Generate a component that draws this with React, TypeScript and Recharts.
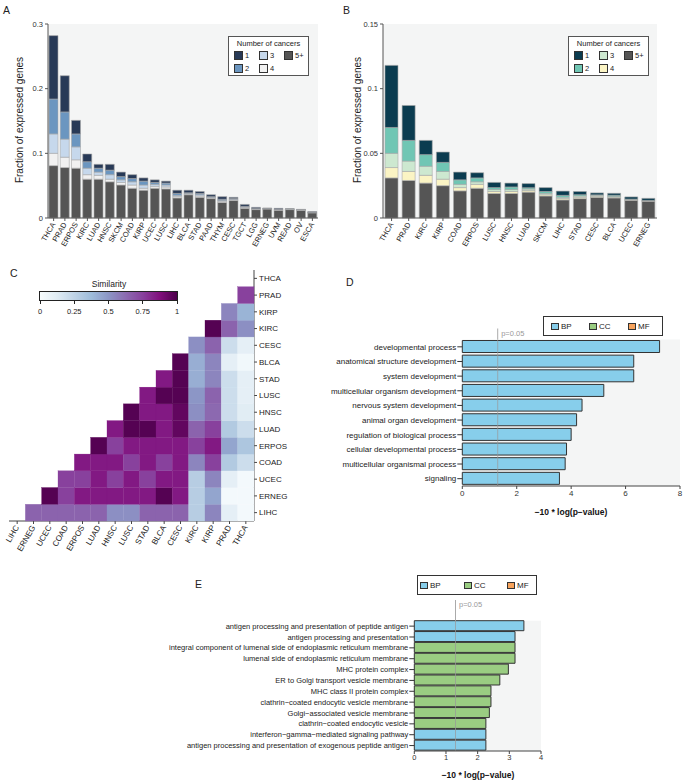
import React from "react"
import {
  BarChart, Bar, XAxis, YAxis, CartesianGrid, Cell,
  ScatterChart, Scatter, ReferenceLine,
} from "recharts"

const FONT = "'Liberation Sans', Arial, Helvetica, sans-serif"

// ---- panel A: fraction of expressed genes, all cancers
const aCat = ["THCA", "PRAD", "ERPOS", "KIRC", "LUAD", "HNSC", "SKCM", "COAD", "KIRP", "UCEC", "LUSC", "LIHC", "BLCA", "STAD", "PAAD", "THYM", "CESC", "TGCT", "LGG", "ERNEG", "UVM", "READ", "OV", "ESCA"]
const aN5 = [0.081, 0.078, 0.077, 0.060, 0.060, 0.056, 0.051, 0.046, 0.043, 0.046, 0.045, 0.031, 0.036, 0.032, 0.030, 0.024, 0.027, 0.015, 0.013, 0.014, 0.012, 0.013, 0.012, 0.008]
const aN4 = [0.019, 0.016, 0.013, 0.007, 0.006, 0.004, 0.004, 0.005, 0.003, 0.003, 0.003, 0.002, 0.001, 0.002, 0.001, 0.002, 0.001, 0.001, 0.0005, 0.0003, 0.0005, 0.0003, 0.0003, 0.0003]
const aN3 = [0.030, 0.028, 0.020, 0.010, 0.005, 0.007, 0.004, 0.005, 0.005, 0.003, 0.003, 0.002, 0.001, 0.002, 0.001, 0.001, 0.001, 0.001, 0.0005, 0.0003, 0.0005, 0.0003, 0.0003, 0.0003]
const aN2 = [0.054, 0.042, 0.020, 0.010, 0.006, 0.007, 0.005, 0.005, 0.006, 0.003, 0.003, 0.003, 0.001, 0.002, 0.001, 0.002, 0.001, 0.001, 0.0005, 0.0003, 0.0005, 0.0003, 0.0003, 0.0003]
const aN1 = [0.098, 0.056, 0.021, 0.012, 0.006, 0.009, 0.007, 0.006, 0.005, 0.004, 0.003, 0.005, 0.004, 0.003, 0.003, 0.004, 0.002, 0.003, 0.002, 0.0005, 0.0015, 0.0005, 0.0005, 0.001]
const aTicks = [0, 0.1, 0.2, 0.3]

// ---- panel B
const bCat = ["THCA", "PRAD", "KIRC", "KIRP", "COAD", "ERPOS", "LUSC", "HNSC", "LUAD", "SKCM", "LIHC", "STAD", "CESC", "BLCA", "UCEC", "ERNEG"]
const bN5 = [0.031, 0.029, 0.027, 0.025, 0.021, 0.023, 0.019, 0.019, 0.020, 0.017, 0.014, 0.015, 0.016, 0.0155, 0.0137, 0.013]
const bN4 = [0.008, 0.007, 0.006, 0.005, 0.0025, 0.003, 0.0015, 0.0015, 0.0012, 0.001, 0.001, 0.001, 0.0008, 0.0006, 0.0003, 0.0002]
const bN3 = [0.011, 0.008, 0.007, 0.006, 0.0025, 0.002, 0.0015, 0.0015, 0.0012, 0.001, 0.001, 0.001, 0.0008, 0.0005, 0.0003, 0.0002]
const bN2 = [0.020, 0.016, 0.009, 0.007, 0.0035, 0.003, 0.0015, 0.002, 0.001, 0.0015, 0.0015, 0.001, 0.0003, 0.001, 0.0003, 0.0002]
const bN1 = [0.048, 0.027, 0.011, 0.008, 0.006, 0.004, 0.004, 0.003, 0.0032, 0.003, 0.0033, 0.0025, 0.0015, 0.0015, 0.0017, 0.0016]
const bTicks = [0, 0.05, 0.1, 0.15]

// ---- panel C: similarity, row r holds columns r+1..14
const cNames = ["LIHC", "ERNEG", "UCEC", "COAD", "ERPOS", "LUAD", "HNSC", "LUSC", "STAD", "BLCA", "CESC", "KIRC", "KIRP", "PRAD", "THCA"]
const cRows = [
  [0.65, 0.65, 0.65, 0.65, 0.65, 0.52, 0.52, 0.65, 0.65, 0.65, 0.28, 0.55, 0.1, 0.02],
  [0.98, 0.75, 0.85, 0.85, 0.85, 0.85, 0.85, 0.98, 0.85, 0.28, 0.45, 0.02, 0.02],
  [0.75, 0.75, 0.85, 0.75, 0.85, 0.75, 0.85, 0.85, 0.28, 0.55, 0.1, 0.02],
  [0.85, 0.85, 0.85, 0.75, 0.85, 0.75, 0.85, 0.55, 0.75, 0.3, 0.2],
  [0.98, 0.75, 0.85, 0.85, 0.85, 0.85, 0.75, 0.85, 0.45, 0.32],
  [0.85, 0.98, 0.98, 0.85, 0.95, 0.65, 0.75, 0.3, 0.2],
  [0.98, 0.85, 0.85, 0.95, 0.52, 0.63, 0.2, 0.12],
  [0.85, 0.98, 0.98, 0.5, 0.65, 0.2, 0.1],
  [0.85, 0.98, 0.42, 0.55, 0.2, 0.1],
  [0.98, 0.42, 0.55, 0.1, 0.03],
  [0.52, 0.65, 0.2, 0.1],
  [0.98, 0.65, 0.52],
  [0.55, 0.4],
  [0.75],
]
const cBarTicks = [0, 0.25, 0.5, 0.75, 1]

// ---- panel D
const dTerms = ["developmental process", "anatomical structure development", "system development", "multicellular organism development", "nervous system development", "animal organ development", "regulation of biological process", "cellular developmental process", "multicellular organismal process", "signaling"]
const dScores = [7.25, 6.3, 6.3, 5.2, 4.4, 4.2, 4.0, 3.83, 3.78, 3.57]
const dTypes = ["BP", "BP", "BP", "BP", "BP", "BP", "BP", "BP", "BP", "BP"]

// ---- panel E
const eTerms = ["antigen processing and presentation of peptide antigen", "antigen processing and presentation", "integral component of lumenal side of endoplasmic reticulum membrane", "lumenal side of endoplasmic reticulum membrane", "MHC protein complex", "ER to Golgi transport vesicle membrane", "MHC class II protein complex", "clathrin\u2212coated endocytic vesicle membrane", "Golgi\u2212associated vesicle membrane", "clathrin\u2212coated endocytic vesicle", "interferon\u2212gamma\u2212mediated signaling pathway", "antigen processing and presentation of exogenous peptide antigen"]
const eScores = [3.46, 3.18, 3.18, 3.18, 2.97, 2.7, 2.42, 2.42, 2.37, 2.26, 2.26, 2.26]
const eTypes = ["BP", "BP", "CC", "CC", "CC", "CC", "CC", "CC", "CC", "CC", "BP", "BP"]

const P_LINE = 1.301

const A_COL: Record<string, string> = { n1: "#283a57", n2: "#6b96c0", n3: "#c6d8ec", n4: "#f1f1f1", n5: "#555555" }
const B_COL: Record<string, string> = { n1: "#0b3c50", n2: "#70c6b4", n3: "#cde8d0", n4: "#fbf4c4", n5: "#555555" }
const GO_COL: Record<string, string> = { BP: "#87ceeb", CC: "#9acd82", MF: "#f7a35c" }
const BUPU = ["#f7fcfd", "#e0ecf4", "#bfd3e6", "#9ebcda", "#8c96c6", "#8c6bb1", "#88419d", "#810f7c", "#4d004b"]

function hex(c: string) {
  return [1, 3, 5].map((i) => parseInt(c.slice(i, i + 2), 16))
}
function simColor(v: number) {
  const t = Math.max(0, Math.min(1, v)) * 8
  const i = Math.min(7, Math.floor(t))
  const f = t - i
  const a = hex(BUPU[i]), b = hex(BUPU[i + 1])
  const m = a.map((x, k) => Math.round(x + (b[k] - x) * f))
  return `rgb(${m[0]},${m[1]},${m[2]})`
}

const aData = aCat.map((name, i) => ({ name, n5: aN5[i], n4: aN4[i], n3: aN3[i], n2: aN2[i], n1: aN1[i] }))
const bData = bCat.map((name, i) => ({ name, n5: bN5[i], n4: bN4[i], n3: bN3[i], n2: bN2[i], n1: bN1[i] }))
const cCells = cRows.flatMap((row, r) => row.map((v, k) => ({ x: r + 1 + k, y: r, v })))
const dData = dTerms.map((term, i) => ({ term, score: dScores[i], type: dTypes[i] }))
const eData = eTerms.map((term, i) => ({ term, score: eScores[i], type: eTypes[i] }))

const numTick = { fontSize: 7.5, fill: "#333", fontFamily: FONT }

function RotTick(props: any) {
  const { x, y, payload, fs = 7.5, names } = props
  const label = names ? names[payload.value] : payload.value
  return (
    <g transform={`translate(${x},${y})`}>
      <text x={0} y={0} dy={2.5} textAnchor="end" transform="rotate(-60)" fontSize={fs} fill="#222" fontFamily={FONT}>
        {label}
      </text>
    </g>
  )
}

function TermTick(props: any) {
  const { x, y, payload, fs = 8, anchor = "end", names } = props
  const label = names ? names[payload.value] : payload.value
  return (
    <text x={x} y={y} dy={fs * 0.35} textAnchor={anchor} fontSize={fs} fill="#222" fontFamily={FONT}>
      {label}
    </text>
  )
}

function PLabel(props: any) {
  const { viewBox, ext } = props
  if (!viewBox) return null
  const x = viewBox.x
  const y = viewBox.y
  return (
    <g>
      <line x1={x} x2={x} y1={y - ext} y2={y} stroke="#aaa" strokeWidth={1} />
      <text x={x + 3.5} y={y - ext + 7} fontSize={7.5} fill="#999" fontFamily={FONT}>p=0.05</text>
    </g>
  )
}

function StackPanel({ data, ticks, max, colors, barSize, width, margin }: any) {
  return (
    <BarChart width={width} height={260} data={data} margin={margin}>
      <CartesianGrid fill="#f4f5f5" stroke="none" horizontal={false} vertical={false} />
      <XAxis dataKey="name" interval={0} height={42} tickSize={3} tickMargin={2} stroke="#555" tick={<RotTick />} />
      <YAxis width={30} domain={[0, max]} ticks={ticks} tickSize={3} tickMargin={2} stroke="#555" tick={numTick} />
      {["n5", "n4", "n3", "n2", "n1"].map((k) => (
        <Bar key={k} dataKey={k} stackId="s" barSize={barSize} fill={colors[k]} stroke="#a8a8a8" strokeWidth={0.6} isAnimationActive={false} />
      ))}
    </BarChart>
  )
}

function CountLegend({ left, colors }: { left: number; colors: Record<string, string> }) {
  const items: [string, string, number, number][] = [["1", "n1", 0, 0], ["3", "n3", 1, 0], ["5+", "n5", 2, 0], ["2", "n2", 0, 1], ["4", "n4", 1, 1]]
  return (
    <div style={{ position: "absolute", left, top: 36, width: 81, height: 40, border: "1px solid #555", boxSizing: "border-box", background: "#fff", fontSize: 7.5, lineHeight: "9px" }}>
      <div style={{ position: "absolute", left: 0, right: 0, top: 2, textAlign: "center" }}>Number of cancers</div>
      {items.map(([lab, k, col, row]) => (
        <div key={k} style={{ position: "absolute", left: 5 + col * 25, top: 14 + row * 13, display: "flex", alignItems: "center" }}>
          <span style={{ display: "inline-block", width: 7, height: 7, border: "1px solid #333", background: colors[k], marginRight: 2 }} />
          {lab}
        </div>
      ))}
    </div>
  )
}

function GoLegend({ left, top, xs }: { left: number; top: number; xs: number[] }) {
  const keys = ["BP", "CC", "MF"]
  return (
    <div style={{ position: "absolute", left, top, width: xs[3], height: 20, border: "1px solid #333", boxSizing: "border-box", background: "#fff", fontSize: 8 }}>
      {keys.map((k, i) => (
        <div key={k} style={{ position: "absolute", left: xs[i], top: 5, display: "flex", alignItems: "center", lineHeight: "9px" }}>
          <span style={{ display: "inline-block", width: 6, height: 5, border: "1px solid #333", background: GO_COL[k], marginRight: 2 }} />
          {k}
        </div>
      ))}
    </div>
  )
}

function GoPanel({ data, width, height, margin, yWidth, max, ticks, barSize, fs, ext }: any) {
  return (
    <BarChart layout="vertical" width={width} height={height} data={data} margin={margin}>
      <CartesianGrid fill="#f4f5f5" stroke="none" horizontal={false} vertical={false} />
      <XAxis type="number" domain={[0, max]} ticks={ticks} height={height - margin.top - margin.bottom - 1000 > 0 ? 0 : undefined} tickSize={3} tickMargin={1} stroke="#444" tick={{ ...numTick, fontSize: fs }} />
      <YAxis type="category" dataKey="term" width={yWidth} axisLine={false} tickSize={5} tickMargin={1} stroke="#333" interval={0} tick={<TermTick fs={fs} />} />
      <Bar dataKey="score" barSize={barSize} stroke="#333" strokeWidth={1} isAnimationActive={false}>
        {data.map((d: any, i: number) => (
          <Cell key={i} fill={GO_COL[d.type]} />
        ))}
      </Bar>
      <ReferenceLine x={P_LINE} stroke="#999" strokeOpacity={0.7} strokeWidth={1} label={<PLabel ext={ext} />} />
    </BarChart>
  )
}

const C_W = 245 / 15
const C_H = 251 / 15

function HeatCell(props: any) {
  const { cx, cy, payload } = props
  const fill = simColor(payload.v)
  return <rect x={cx - C_W / 2} y={cy - C_H / 2} width={C_W} height={C_H} fill={fill} stroke={fill} strokeWidth={0.3} />
}

function Letter({ x, y, t }: { x: number; y: number; t: string }) {
  return <div style={{ position: "absolute", left: x, top: y, fontSize: 10.5, color: "#222" }}>{t}</div>
}

function VTitle({ x, y, t }: { x: number; y: number; t: string }) {
  return (
    <div style={{ position: "absolute", left: x, top: y, transform: "translate(-50%,-50%) rotate(-90deg)", whiteSpace: "nowrap", fontSize: 10, color: "#222" }}>{t}</div>
  )
}

function HTitle({ x, y, t }: { x: number; y: number; t: string }) {
  return (
    <div style={{ position: "absolute", left: x, top: y, transform: "translate(-50%,-50%)", whiteSpace: "nowrap", fontSize: 8.5, fontWeight: "bold", color: "#111" }}>{t}</div>
  )
}

const idxTicks = cNames.map((_, i) => i)

export default function App() {
  return (
    <div style={{ position: "absolute", left: 0, top: 0, width: 685, height: 781, background: "#fff", fontFamily: FONT, color: "#222", overflow: "hidden" }}>
      {/* A */}
      <div style={{ position: "absolute", left: 0, top: 0 }}>
        <StackPanel data={aData} ticks={aTicks} max={0.3} colors={A_COL} barSize={9} width={340} margin={{ top: 24, right: 22, left: 18, bottom: 0 }} />
      </div>
      <Letter x={3} y={4} t="A" />
      <VTitle x={19} y={120} t="Fraction of expressed genes" />
      <CountLegend left={228} colors={A_COL} />

      {/* B */}
      <div style={{ position: "absolute", left: 340, top: 0 }}>
        <StackPanel data={bData} ticks={bTicks} max={0.15} colors={B_COL} barSize={13} width={345} margin={{ top: 24, right: 28, left: 13, bottom: 0 }} />
      </div>
      <Letter x={343} y={4} t="B" />
      <VTitle x={357} y={120} t="Fraction of expressed genes" />
      <CountLegend left={568} colors={B_COL} />

      {/* C */}
      <div style={{ position: "absolute", left: 0, top: 262 }}>
        <ScatterChart width={300} height={299} margin={{ top: 8, right: 1, left: 9, bottom: 0 }}>
          <XAxis type="number" dataKey="x" domain={[-0.5, 14.5]} ticks={idxTicks} interval={0} height={40} tickSize={3} tickMargin={2} stroke="#444" tick={<RotTick fs={8} names={cNames} />} />
          <YAxis type="number" dataKey="y" orientation="right" domain={[-0.5, 14.5]} ticks={idxTicks} interval={0} width={45} tickSize={3} tickMargin={2} stroke="#444" tick={<TermTick fs={8} anchor="start" names={cNames} />} />
          <Scatter data={cCells} shape={<HeatCell />} isAnimationActive={false} />
        </ScatterChart>
      </div>
      <Letter x={10} y={267} t="C" />
      <div style={{ position: "absolute", left: 109, top: 284, transform: "translate(-50%,-50%)", fontSize: 8.5, whiteSpace: "nowrap" }}>Similarity</div>
      <div style={{ position: "absolute", left: 39, top: 291, width: 139, height: 10, border: "1px solid #222", boxSizing: "border-box", background: `linear-gradient(to right, ${BUPU.join(",")})` }} />
      {cBarTicks.map((t) => (
        <React.Fragment key={t}>
          <div style={{ position: "absolute", left: 40 + t * 137 - 0.5, top: 301, width: 1, height: 3, background: "#222" }} />
          <div style={{ position: "absolute", left: 40 + t * 137, top: 311, transform: "translate(-50%,-50%)", fontSize: 7.5 }}>{t}</div>
        </React.Fragment>
      ))}

      {/* D */}
      <div style={{ position: "absolute", left: 330, top: 300 }}>
        <GoPanel data={dData} width={355} height={216} margin={{ top: 39.5, right: 5, left: 2, bottom: 0 }} yWidth={130.3} max={8} ticks={[0, 2, 4, 6, 8]} barSize={12} fs={8} ext={11} />
      </div>
      <Letter x={346} y={276} t="D" />
      <GoLegend left={543} top={316} xs={[7, 45, 84, 120]} />
      <HTitle x={571} y={512} t={"\u221210 * log(p\u2212value)"} />

      {/* E */}
      <div style={{ position: "absolute", left: 0, top: 600 }}>
        <GoPanel data={eData} width={560} height={181} margin={{ top: 20.7, right: 19, left: 4.3, bottom: 0 }} yWidth={410} max={4} ticks={[0, 1, 2, 3, 4]} barSize={10} fs={7.5} ext={21} />
      </div>
      <Letter x={195} y={578} t="E" />
      <GoLegend left={417} top={575} xs={[2, 46, 89, 120]} />
      <HTitle x={478} y={775} t={"\u221210 * log(p\u2212value)"} />
    </div>
  )
}
